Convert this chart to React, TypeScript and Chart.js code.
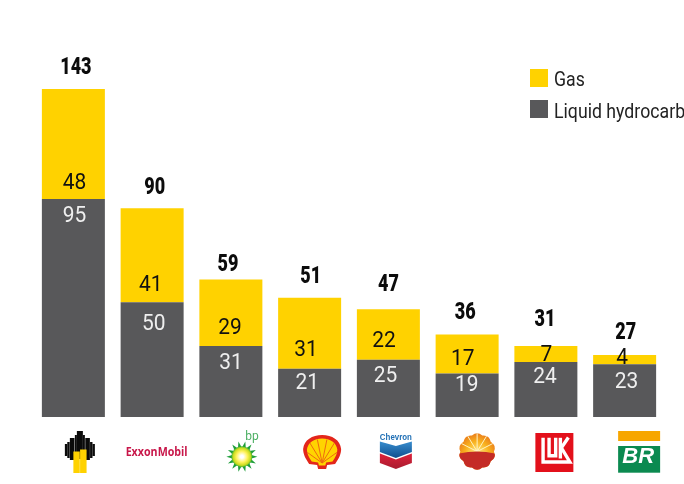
import React, { useEffect, useRef } from "react";
import { Chart, registerables } from "chart.js";

Chart.register(...registerables);

const companies = ["Rosneft", "ExxonMobil", "BP", "Shell", "Chevron", "CNPC", "Lukoil", "Petrobras"];
const gas = [48, 41, 29, 31, 22, 17, 7, 4];
const liquids = [95, 50, 31, 21, 25, 19, 24, 23];
const totals = [143, 90, 59, 51, 47, 36, 31, 27];
const seriesNames = ["Gas", "Liquid hydrocarb"];

const YELLOW = "#FFD200";
const GREY = "#58585A";

// Hand placement of the value labels, relative to each bar's centre and edges.
const totalDx = [2.5, 2.5, -3, 1, 0, -2, -1, 1];
const totalDy = [-23.3, -22.3, -17, -23.3, -27, -24.3, -28, -24.2];
const gasDx = [1, -1.5, -1, -3.7, -4.5, -4.5, 0.5, -2.5];
const gasDy = [-18.2, -19, -20.2, -20.2, -20, -16.2, -9.2, -8];
const liquidDx = [1, 1.5, 0, -2.5, -3, -0.5, -1, 1.8];
const liquidDy = [14.8, 20, 15, 12, 14.7, 10, 12.8, 15.8];

// Draws text horizontally squeezed, with its capitals centred on y.
function squeezedText(
  ctx: CanvasRenderingContext2D,
  text: string,
  x: number,
  y: number,
  font: string,
  color: string,
  sx: number,
  align: CanvasTextAlign = "center"
) {
  const size = parseFloat(font.match(/([\d.]+)px/)![1]);
  ctx.save();
  ctx.translate(x, y + size * 0.355);
  ctx.scale(sx, 1);
  ctx.font = font;
  ctx.fillStyle = color;
  ctx.textAlign = align;
  ctx.textBaseline = "alphabetic";
  ctx.fillText(text, 0, 0);
  ctx.restore();
}

function poly(ctx: CanvasRenderingContext2D, pts: number[][], fill: string | CanvasGradient) {
  ctx.beginPath();
  pts.forEach(([x, y], i) => (i ? ctx.lineTo(x, y) : ctx.moveTo(x, y)));
  ctx.closePath();
  ctx.fillStyle = fill;
  ctx.fill();
}

function rosneft(ctx: CanvasRenderingContext2D) {
  const cols = [
    [-15, -8, 2.4, 12],
    [-12.6, -10, 2.4, 16],
    [-10, -14, 4.6, 22],
    [-5, -17, 2, 24],
    [-3, -21, 6, 28],
    [3, -17, 2, 24],
    [5.4, -14, 4.6, 22],
    [10.2, -10, 2.4, 16],
    [12.6, -8, 2.4, 12],
  ];
  ctx.fillStyle = "#0b0b0b";
  cols.forEach(([x, y, w, h]) => ctx.fillRect(x, y, w, h));
  ctx.fillStyle = YELLOW;
  ctx.fillRect(-6.5, -0.5, 6.4, 21.5);
  ctx.fillRect(0.2, -2.5, 6.5, 23.5);
}

function exxon(ctx: CanvasRenderingContext2D) {
  const font = "bold 13px 'Open Sans'";
  ctx.font = font;
  const fit = 62 / ctx.measureText("ExxonMobil").width;
  squeezedText(ctx, "ExxonMobil", 0, 0, font, "#C8174A", fit);
}

function bpLogo(ctx: CanvasRenderingContext2D) {
  squeezedText(ctx, "bp", 10, -20.7, "12px Roboto", "#4CAF63", 1);
  const n = 14;
  for (let i = 0; i < n; i++) {
    const a = (i / n) * Math.PI * 2;
    const b = Math.PI / n;
    poly(
      ctx,
      [
        [Math.cos(a - b) * 9, Math.sin(a - b) * 9],
        [Math.cos(a) * 15.5, Math.sin(a) * 15.5],
        [Math.cos(a + b) * 9, Math.sin(a + b) * 9],
      ],
      "#1E9E3A"
    );
  }
  const g = ctx.createRadialGradient(0, 0, 1.5, 0, 0, 10.5);
  g.addColorStop(0, "#ffffff");
  g.addColorStop(0.45, "#FFF25A");
  g.addColorStop(0.8, "#C8DC1E");
  g.addColorStop(1, "#3FAE35");
  ctx.fillStyle = g;
  ctx.beginPath();
  ctx.arc(0, 0, 10.5, 0, Math.PI * 2);
  ctx.fill();
}

function shellOutline(ctx: CanvasRenderingContext2D, s: number) {
  ctx.beginPath();
  ctx.moveTo(-5 * s, 13 * s);
  ctx.lineTo(-13 * s, 12 * s);
  ctx.bezierCurveTo(-17 * s, 6 * s, -19 * s, 2 * s, -19 * s, -3 * s);
  ctx.bezierCurveTo(-18 * s, -12 * s, -10 * s, -17 * s, 0, -17 * s);
  ctx.bezierCurveTo(10 * s, -17 * s, 18 * s, -12 * s, 19 * s, -3 * s);
  ctx.bezierCurveTo(19 * s, 2 * s, 17 * s, 6 * s, 13 * s, 12 * s);
  ctx.lineTo(5 * s, 13 * s);
  ctx.lineTo(4 * s, 17 * s);
  ctx.lineTo(-4 * s, 17 * s);
  ctx.closePath();
}

function shell(ctx: CanvasRenderingContext2D) {
  shellOutline(ctx, 1);
  ctx.fillStyle = "#E3261B";
  ctx.fill();
  ctx.save();
  shellOutline(ctx, 0.8);
  ctx.fillStyle = "#FFD400";
  ctx.fill();
  ctx.clip();
  ctx.strokeStyle = "#EE6A10";
  ctx.lineWidth = 1;
  [-0.95, -0.55, -0.2, 0.2, 0.55, 0.95].forEach((a) => {
    ctx.beginPath();
    ctx.moveTo(0, 11);
    ctx.lineTo(Math.sin(a) * 24, 11 - Math.cos(a) * 24);
    ctx.stroke();
  });
  ctx.restore();
}

function chevron(ctx: CanvasRenderingContext2D) {
  squeezedText(ctx, "Chevron", 0, -15.5, "bold 8.5px 'Liberation Sans'", "#1F6FB5", 0.93);
  const blue = ctx.createLinearGradient(0, -11, 0, 6);
  blue.addColorStop(0, "#3A8FD0");
  blue.addColorStop(1, "#0E4E8E");
  poly(ctx, [[-16, -10.5], [0, -6], [16, -10.5], [16, 0], [0, 6], [-16, 0]], blue);
  const red = ctx.createLinearGradient(0, 1, 0, 17);
  red.addColorStop(0, "#E0213A");
  red.addColorStop(1, "#A81C30");
  poly(ctx, [[-16, 1.5], [0, 7.5], [16, 1.5], [16, 11], [0, 17], [-16, 11]], red);
}

function cnpc(ctx: CanvasRenderingContext2D) {
  const lobes = 10;
  ctx.save();
  ctx.beginPath();
  for (let i = 0; i < lobes; i++) {
    const a0 = (i / lobes) * Math.PI * 2;
    const a1 = ((i + 1) / lobes) * Math.PI * 2;
    const am = (a0 + a1) / 2;
    ctx.lineTo(Math.cos(a0) * 16.8, Math.sin(a0) * 16.8);
    ctx.quadraticCurveTo(Math.cos(am) * 20.6, Math.sin(am) * 20.6, Math.cos(a1) * 16.8, Math.sin(a1) * 16.8);
  }
  ctx.closePath();
  ctx.clip();
  const g = ctx.createRadialGradient(0, 2, 2, 0, 2, 22);
  g.addColorStop(0, "#FFE680");
  g.addColorStop(0.5, "#F8B21E");
  g.addColorStop(1, "#E8711A");
  ctx.fillStyle = g;
  ctx.fillRect(-22, -22, 44, 44);
  ctx.strokeStyle = "#FFF3C4";
  ctx.lineWidth = 1;
  [-1.1, -0.55, 0, 0.55, 1.1].forEach((a) => {
    ctx.beginPath();
    ctx.moveTo(0, 0);
    ctx.lineTo(Math.sin(a) * 24, -Math.cos(a) * 24);
    ctx.stroke();
  });
  ctx.fillStyle = "#C42B26";
  ctx.beginPath();
  ctx.moveTo(-22, 3);
  ctx.quadraticCurveTo(0, -3, 22, 3);
  ctx.lineTo(22, 24);
  ctx.lineTo(-22, 24);
  ctx.closePath();
  ctx.fill();
  ctx.restore();
}

function lukoil(ctx: CanvasRenderingContext2D) {
  ctx.fillStyle = "#E3101B";
  ctx.fillRect(-19, -19.5, 38, 39);
  ctx.strokeStyle = "#ffffff";
  ctx.lineWidth = 3.4;
  ctx.lineJoin = "miter";
  const line = (pts: number[][]) => {
    ctx.beginPath();
    pts.forEach(([x, y], i) => (i ? ctx.lineTo(x, y) : ctx.moveTo(x, y)));
    ctx.stroke();
  };
  line([[-11.3, -14.7], [-11.3, 9.5], [15.5, 9.5], [7, -4.7], [14, -15]]);
  line([[-5.3, -14.7], [-5.3, 3.3], [1.3, 3.3], [1.3, -14.7]]);
  line([[6, -14.7], [6, 6]]);
}

function petrobras(ctx: CanvasRenderingContext2D) {
  ctx.fillStyle = "#F7A600";
  ctx.fillRect(-21, -21, 42, 10);
  ctx.fillStyle = "#0B8A50";
  ctx.fillRect(-21, -6, 42, 26.7);
  squeezedText(ctx, "BR", -1, 3, "italic bold 22px 'Liberation Sans'", "#ffffff", 1);
}

// Each logo: painter plus its offset from the bar's centre and its vertical centre.
const logos: [(c: CanvasRenderingContext2D) => void, number, number][] = [
  [rosneft, 6.5, 452],
  [exxon, 4.5, 451],
  [bpLogo, 11, 456.7],
  [shell, 12.5, 452],
  [chevron, 7.5, 452],
  [cnpc, 10, 451.5],
  [lukoil, 8.5, 452.5],
  [petrobras, 14.5, 452],
];

const annotations = {
  id: "annotations",
  afterDatasetsDraw(chart: any) {
    const { ctx } = chart;
    const liquidBars = chart.getDatasetMeta(0).data;
    const gasBars = chart.getDatasetMeta(1).data;
    const segFont = "22px Roboto";
    companies.forEach((_, i) => {
      const g = gasBars[i];
      const l = liquidBars[i];
      squeezedText(ctx, String(gas[i]), g.x + gasDx[i], l.y + gasDy[i], segFont, "#111111", 0.95);
      squeezedText(ctx, String(liquids[i]), l.x + liquidDx[i], l.y + liquidDy[i], segFont, "#EFEFEF", 0.95);
      squeezedText(ctx, String(totals[i]), g.x + totalDx[i], g.y + totalDy[i], "900 24px Roboto", "#0c0c0c", 0.75);
    });
    // Legend at the upper right, running off the canvas edge
    [YELLOW, GREY].forEach((colour, i) => {
      ctx.fillStyle = colour;
      ctx.fillRect(530, 69 + i * 31, 18, 18);
      squeezedText(ctx, seriesNames[i], 554, 79 + i * 31.5, "20px Roboto", "#222222", 0.885, "left");
    });
    // Company logos under the bars
    logos.forEach(([paint, dx, y], i) => {
      ctx.save();
      ctx.translate(gasBars[i].x + dx, y);
      paint(ctx);
      ctx.restore();
    });
  },
};

export default function App() {
  const ref = useRef<HTMLCanvasElement>(null);
  useEffect(() => {
    document.body.style.margin = "0";
    const chart = new Chart(ref.current!, {
      type: "bar",
      data: {
        labels: companies,
        datasets: [
          { label: seriesNames[1], data: liquids, backgroundColor: GREY, stack: "s" },
          { label: seriesNames[0], data: gas, backgroundColor: YELLOW, stack: "s" },
        ],
      },
      options: {
        responsive: false,
        animation: false,
        devicePixelRatio: 1,
        layout: { padding: { left: 34, right: 20, top: 50, bottom: 67 } },
        datasets: { bar: { barPercentage: 0.8, categoryPercentage: 1 } },
        plugins: { legend: { display: false }, tooltip: { enabled: false } },
        scales: {
          x: { display: false, stacked: true },
          y: { display: false, stacked: true, min: 0, max: 160 },
        },
      },
      plugins: [annotations],
    } as any);
    return () => chart.destroy();
  }, []);
  return <canvas ref={ref} width={684} height={484} style={{ display: "block" }} />;
}
